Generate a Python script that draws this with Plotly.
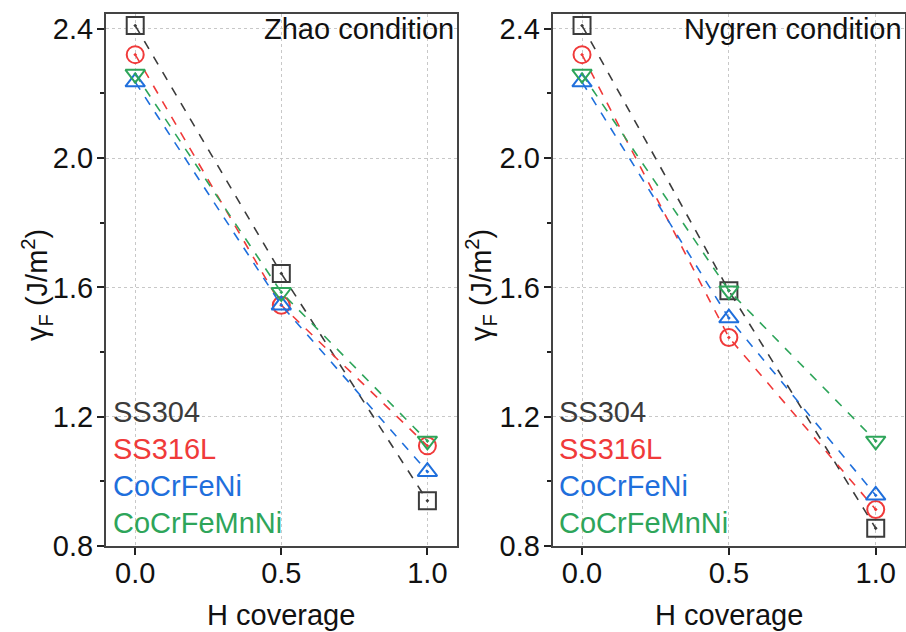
import plotly.graph_objects as go
from plotly.subplots import make_subplots

h_coverage = [0.0, 0.5, 1.0]
series_names = ["SS304", "SS316L", "CoCrFeNi", "CoCrFeMnNi"]
colors = ["#3c3c3c", "#f03a3a", "#1f6fdc", "#2ea55a"]
symbols = ["square-open-dot", "circle-open-dot", "triangle-up-open-dot", "triangle-down-open-dot"]

zhao = {
    "SS304": [2.41, 1.643, 0.94],
    "SS316L": [2.32, 1.545, 1.11],
    "CoCrFeNi": [2.235, 1.545, 1.03],
    "CoCrFeMnNi": [2.26, 1.585, 1.125],
}
nygren = {
    "SS304": [2.41, 1.59, 0.855],
    "SS316L": [2.32, 1.445, 0.913],
    "CoCrFeNi": [2.235, 1.505, 0.957],
    "CoCrFeMnNi": [2.26, 1.59, 1.125],
}
panel_titles = ["Zhao condition", "Nygren condition"]
x_title = "H coverage"
y_title = "γ<sub>F</sub> (J/m<sup>2</sup>)"
x_ticks = [0.0, 0.5, 1.0]
y_ticks = [0.8, 1.2, 1.6, 2.0, 2.4]

fig = make_subplots(rows=1, cols=2)
font_family = "Liberation Sans, Arial, sans-serif"

for col, data in enumerate([zhao, nygren], start=1):
    for name, color, sym in zip(series_names, colors, symbols):
        fig.add_trace(go.Scatter(
            x=h_coverage, y=data[name], mode="lines+markers", name=name,
            line=dict(color=color, width=1.6, dash="dash"),
            marker=dict(symbol=sym, size=17, color=color, line=dict(width=2, color=color)),
            showlegend=False), row=1, col=col)

doms = [[0.117, 0.504], [0.610, 0.999]]
for i in range(2):
    xa = "xaxis" if i == 0 else "xaxis2"
    ya = "yaxis" if i == 0 else "yaxis2"
    fig.layout[xa].update(
        domain=doms[i], range=[-0.1, 1.1], tickvals=x_ticks, ticktext=[f"{v:.1f}" for v in x_ticks],
        ticks="outside", ticklen=7, tickwidth=1.5, tickcolor="#222", automargin=False,
        ticklabelstandoff=-7,
        showline=True, linewidth=2, linecolor="#444", mirror=True,
        showgrid=True, gridcolor="#c8c8c8", griddash="dot", gridwidth=1,
        zeroline=False, tickfont=dict(size=29, color="#111", family=font_family),
    )
    fig.layout[ya].update(
        domain=[0.136, 0.978], range=[0.8, 2.446], tickvals=y_ticks, ticktext=[f"{v:.1f}" for v in y_ticks],
        ticks="outside", ticklen=7, tickwidth=1.5, tickcolor="#222", automargin=False,
        ticklabelstandoff=-2,
        minor=dict(ticks="outside", ticklen=4, tickwidth=1.5, tickcolor="#222", dtick=0.2, tick0=0.8, showgrid=False),
        showline=True, linewidth=2, linecolor="#444", mirror=True,
        showgrid=True, gridcolor="#c8c8c8", griddash="dot", gridwidth=1,
        zeroline=False, tickfont=dict(size=29, color="#111", family=font_family),
    )

ytitle_x = [37 / 906, 481 / 906]
annotations = []
for i, title in enumerate(panel_titles):
    annotations.append(dict(text=title, xref="paper", yref="paper", x=doms[i][1] - 0.001, y=0.983,
                            xanchor="right", yanchor="top", showarrow=False,
                            font=dict(size=29, color="#111", family=font_family)))
    annotations.append(dict(text=x_title, xref="paper", yref="paper", x=sum(doms[i]) / 2, y=1 - 615 / 632,
                            xanchor="center", yanchor="middle", showarrow=False,
                            font=dict(size=29, color="#111", family=font_family)))
    annotations.append(dict(text=y_title, xref="paper", yref="paper", x=ytitle_x[i], y=1 - 285 / 632,
                            xanchor="center", yanchor="middle", showarrow=False, textangle=-90,
                            font=dict(size=29, color="#111", family=font_family)))
    for k, (name, color) in enumerate(zip(series_names, colors)):
        annotations.append(dict(text=name, xref="paper", yref="paper", x=doms[i][0] + 0.005,
                                y=1 - (412 + k * 37) / 632, xanchor="left", yanchor="middle", showarrow=False,
                                font=dict(size=29, color=color, family=font_family)))

fig.update_layout(
    width=906, height=632, margin=dict(l=0, r=0, t=0, b=0, autoexpand=False),
    paper_bgcolor="white", plot_bgcolor="white", annotations=annotations,
    font=dict(family=font_family),
)

fig.write_html("out.html")
